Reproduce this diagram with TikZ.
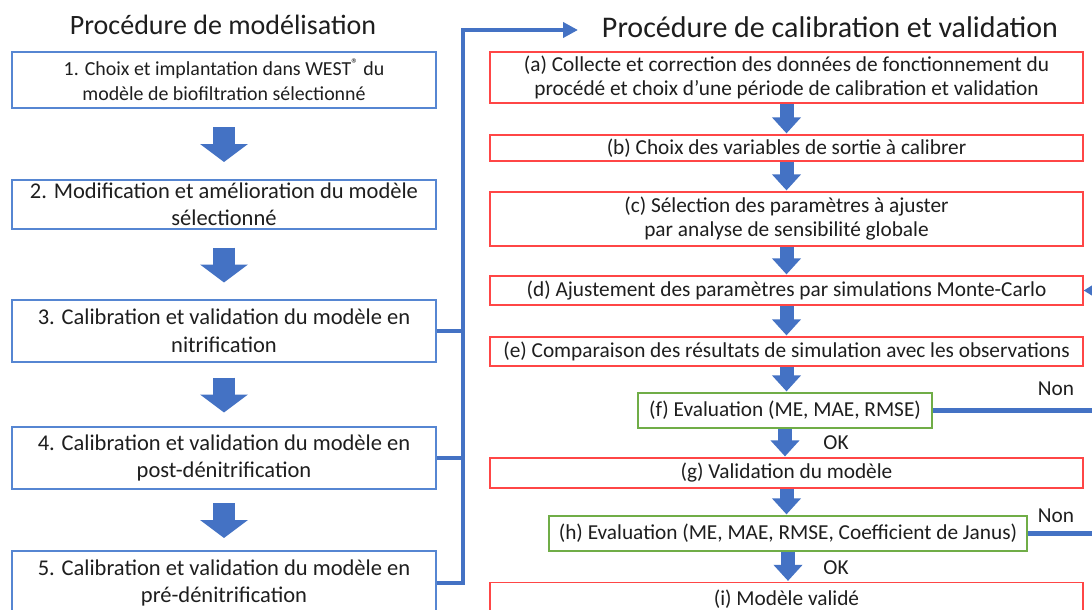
\documentclass[tikz,border=0pt]{standalone}
\usepackage{fontspec}
\setmainfont{Carlito}
\usetikzlibrary{arrows.meta,positioning,calc}
\definecolor{mbox}{RGB}{86,134,210}
\definecolor{cbox}{RGB}{255,70,70}
\definecolor{ebox}{RGB}{112,173,71}
\definecolor{flow}{RGB}{68,114,196}
\definecolor{txt}{RGB}{30,30,30}

\begin{document}
\begin{tikzpicture}[x=1pt,y=-1pt,font=\fontsize{21.3}{24}\selectfont,text=txt,
  box/.style={draw=mbox,line width=1.2pt,minimum width=424pt,align=center,inner sep=2pt,
    font=\fontsize{22.5}{27.5}\selectfont},
  cbx/.style={box,draw=cbox,minimum width=593pt,font=\fontsize{21.3}{24}\selectfont},
  ebx/.style={cbx,draw=ebox},
  ttl/.style={font=\fontsize{28}{32}\selectfont},
  big/.style={line width=22pt,flow,-{Triangle[width=47pt,length=18pt]}},
  sml/.style={line width=14pt,flow,-{Triangle[width=28pt,length=16pt]},shorten >=1pt},
  bus/.style={line width=4.5pt,flow}]
\useasboundingbox (0,0) rectangle (1092,610);
\fill[white] (0,0) rectangle (1092,610);
\clip (0,0) rectangle (1092,610);
% modelling procedure
\node[ttl] (tm) at (223,25) {Procédure de modélisation};
\node[box,minimum height=56pt,font=\fontsize{19.9}{25}\selectfont] (m1) at (224,80) {1. Choix et implantation dans WEST\textsuperscript{®} du\\modèle de biofiltration sélectionné};
\node[box,minimum height=49pt] (m2) at (224,204.5) {2. Modification et amélioration du modèle\\sélectionné};
\node[box,minimum height=62pt] (m3) at (224,331) {3. Calibration et validation du modèle en\\nitrification};
\node[box,minimum height=62pt] (m4) at (224,458) {4. Calibration et validation du modèle en\\post-dénitrification};
\node[box,minimum height=64pt] (m5) at (224,583) {5. Calibration et validation du modèle en\\pré-dénitrification};
\foreach \a/\b in {m1/m2,m2/m3,m3/m4,m4/m5}
  \draw[big] ($(\a.south)!.5!(\b.north)+(0,-17)$) -- ($(\a.south)!.5!(\b.north)+(0,18)$);
% calibration procedure
\node[ttl,font=\fontsize{30}{34}\selectfont] (tc) at (830,27) {Procédure de calibration et validation};
\node[cbx,minimum height=51pt] (ca) at (786.5,77.5) {(a) Collecte et correction des données de fonctionnement du\\procédé et choix d’une période de calibration et validation};
\node[cbx,minimum height=26pt] (cb) at (786.5,148) {(b) Choix des variables de sortie à calibrer};
\node[cbx,minimum height=54pt] (cc) at (786.5,219) {(c) Sélection des paramètres à ajuster\\par analyse de sensibilité globale};
\node[cbx,minimum height=29pt] (cd) at (786.5,290.5) {(d) Ajustement des paramètres par simulations Monte-Carlo};
\node[cbx,minimum height=29pt] (ce) at (786.5,351.5) {(e) Comparaison des résultats de simulation avec les observations};
\node[ebx,minimum width=294pt,minimum height=35pt] (cf) at (785,410.5) {(f) Evaluation (ME, MAE, RMSE)};
\node[cbx,minimum height=30pt] (cg) at (786.5,473) {(g) Validation du modèle};
\node[ebx,minimum width=478pt,minimum height=35pt] (ch) at (788,533.5) {(h) Evaluation (ME, MAE, RMSE, Coefficient de Janus)};
\node[cbx,minimum height=33pt] (ci) at (786.5,599) {(i) Modèle validé};
\foreach \a/\b in {ca/cb,cb/cc,cc/cd,cd/ce,ce/cf,cf/cg,cg/ch,ch/ci}
  \draw[sml] (\a.south) -- (\a.south |- \b.north);
\node (ok1) at (836,443) {OK};
\node (ok2) at (836,568) {OK};
\node (non1) at (1056,389) {Non};
\node (non2) at (1056,516) {Non};
% links
\coordinate (bus) at (463,30);
\coordinate (busend) at (578,30);
\coordinate (edge) at (1100,0);
\draw[bus,-{Triangle[width=15pt,length=15pt]}] (m5.east) -| (bus) -- (busend);
\draw[bus] (m3.east) -- (m3.east -| bus);
\draw[bus] (m4.east) -- (m4.east -| bus);
\draw[bus] (cf.east) -- (cf.east -| edge);
\draw[bus] (ch.east) -- (ch.east -| edge);
\draw[bus,-{Triangle[width=15pt,length=13pt]}] (cd.east -| edge) -- (cd.east);
\end{tikzpicture}
\end{document}
